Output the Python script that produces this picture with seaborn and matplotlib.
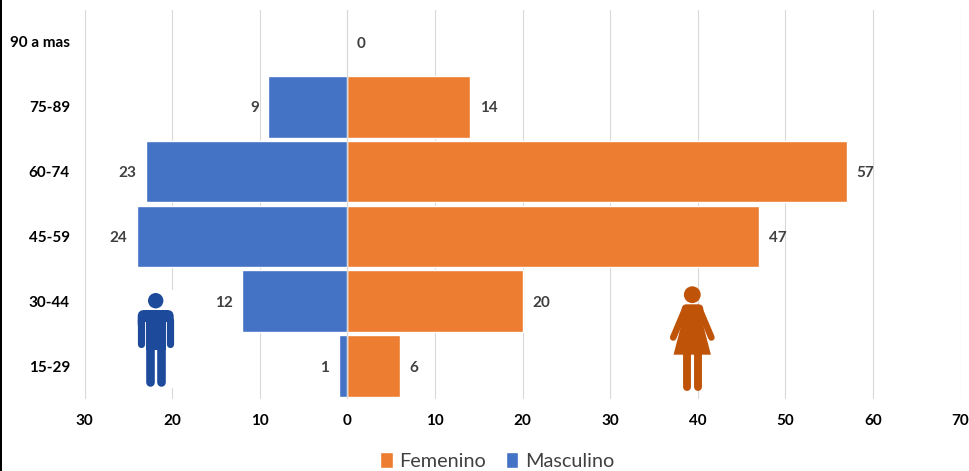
import numpy as np
import pandas as pd
import matplotlib
matplotlib.use("Agg")
import matplotlib.pyplot as plt
import seaborn as sns
from matplotlib.lines import Line2D
from matplotlib.patches import Circle, FancyBboxPatch, Patch, Polygon, Rectangle
from matplotlib.transforms import Affine2D

# Values
age_groups = ["90 a mas", "75-89", "60-74", "45-59", "30-44", "15-29"]
femenino = [0, 14, 57, 47, 20, 6]
masculino = [None, 9, 23, 24, 12, 1]  # no bar and no label for 90 a mas
x_ticks = [-30, -20, -10, 0, 10, 20, 30, 40, 50, 60, 70]

W, H = 969, 471
BLUE, ORANGE = "#4472C4", "#ED7D31"
MAN, WOMAN = "#1D4A9A", "#BF5308"
GRID = "#D9D9D9"

sns.set_theme(style="white")
plt.rcParams["font.family"] = ["Lato", "DejaVu Sans"]

df = pd.DataFrame({
    "Edad": age_groups * 2,
    "Sexo": ["Femenino"] * 6 + ["Masculino"] * 6,
    "Casos": femenino + [None if v is None else -v for v in masculino],
}).dropna()

fig = plt.figure(figsize=(W / 100, H / 100), dpi=100, facecolor="white")
ax = fig.add_axes([84.5 / W, 1 - 398.5 / H, 876 / W, 389 / H])

sns.barplot(data=df, x="Casos", y="Edad", hue="Sexo", order=age_groups,
            hue_order=["Femenino", "Masculino"],
            palette={"Femenino": ORANGE, "Masculino": BLUE},
            orient="h", dodge=False, width=0.95, saturation=1, legend=False, ax=ax)

ax.set_xlim(-30, 70)
ax.set_xticks(x_ticks)
ax.set_xticklabels([str(abs(t)) for t in x_ticks], fontsize=11, fontweight="bold", color="black")
ax.set_yticklabels(age_groups, fontsize=11, fontweight="bold", color="black")
ax.set_xlabel("")
ax.set_ylabel("")
ax.tick_params(axis="x", length=0, pad=11.5)
ax.tick_params(axis="y", length=0, pad=10.5)
ax.grid(axis="x", color=GRID, linewidth=0.8)
ax.grid(axis="y", visible=False)
ax.set_axisbelow(True)
ax.axvline(0, color=GRID, linewidth=0.8, zorder=4)
sns.despine(ax=ax, left=True, bottom=True)

for container in ax.containers:
    labels = ax.bar_label(container, fmt=lambda v: f"{abs(v):.0f}", padding=7,
                          fontsize=11, fontweight="bold", color="#404040")
    for label in labels:
        label.xyann = (label.xyann[0], -1.2)  # sit a little lower, like the source

# Everything below is placed in picture pixels, y pointing down
px = Affine2D().scale(1 / W, -1 / H).translate(0, 1) + fig.transFigure


def add(artist):
    artist.set_transform(px)
    fig.add_artist(artist)
    return artist


def limb(x0, y0, x1, y1, width, color):
    fig.add_artist(Line2D([x0, x1], [y0, y1], transform=px, color=color,
                          linewidth=width * 0.72, solid_capstyle="round"))


def block(x0, y0, x1, y1, radius, color):
    add(FancyBboxPatch((x0 + radius, y0 + radius), x1 - x0 - 2 * radius, y1 - y0 - 2 * radius,
                       boxstyle=f"round,pad={radius},rounding_size={radius}",
                       facecolor=color, edgecolor="none"))


# black strip on the left edge
add(Rectangle((0, 0), 2, H, facecolor="black", edgecolor="none"))

# man icon, with the white box that hides the gridline
add(Rectangle((137, 290), 38, 98, facecolor="white", edgecolor="none"))
add(Circle((155.7, 300.7), 7.7, facecolor=MAN, edgecolor="none"))
block(137.7, 310, 173.7, 330, 6.5, MAN)
add(Rectangle((145, 322), 21.7, 12, facecolor="white", edgecolor="none"))
limb(141.3, 320, 141.3, 343.7, 7.2, MAN)
limb(170.1, 320, 170.1, 343.7, 7.2, MAN)
add(Rectangle((146.2, 316), 19.5, 34, facecolor=MAN, edgecolor="none"))
limb(150.5, 345, 150.5, 382, 8.6, MAN)
limb(161.3, 345, 161.3, 382, 8.6, MAN)

# woman icon
add(Circle((692.3, 294.7), 8.4, facecolor=WOMAN, edgecolor="none"))
limb(684.8, 310, 673.2, 337.5, 6.6, WOMAN)
limb(699.8, 310, 711.4, 337.5, 6.6, WOMAN)
add(Polygon([(683.5, 314), (701, 314), (711.7, 355.3), (672.7, 355.3)],
            facecolor=WOMAN, edgecolor="white", linewidth=0.9))
add(Rectangle((670, 355.6), 45, 2, facecolor="white", edgecolor="none"))
block(681.7, 304.3, 703.3, 322, 5, WOMAN)
limb(686.8, 352, 686.8, 386.5, 7.9, WOMAN)
limb(697.8, 352, 697.8, 386.5, 7.9, WOMAN)

# legend
handles = [Patch(facecolor=ORANGE, label="Femenino"), Patch(facecolor=BLUE, label="Masculino")]
fig.legend(handles=handles, loc="center", bbox_to_anchor=(497.5 / W, 1 - 461 / H), ncol=2,
           frameon=False, fontsize=14.3, handlelength=0.62, handleheight=0.85,
           handletextpad=0.35, columnspacing=1.0, labelcolor="#404040", borderpad=0)

fig.savefig("out.png", dpi=100)
